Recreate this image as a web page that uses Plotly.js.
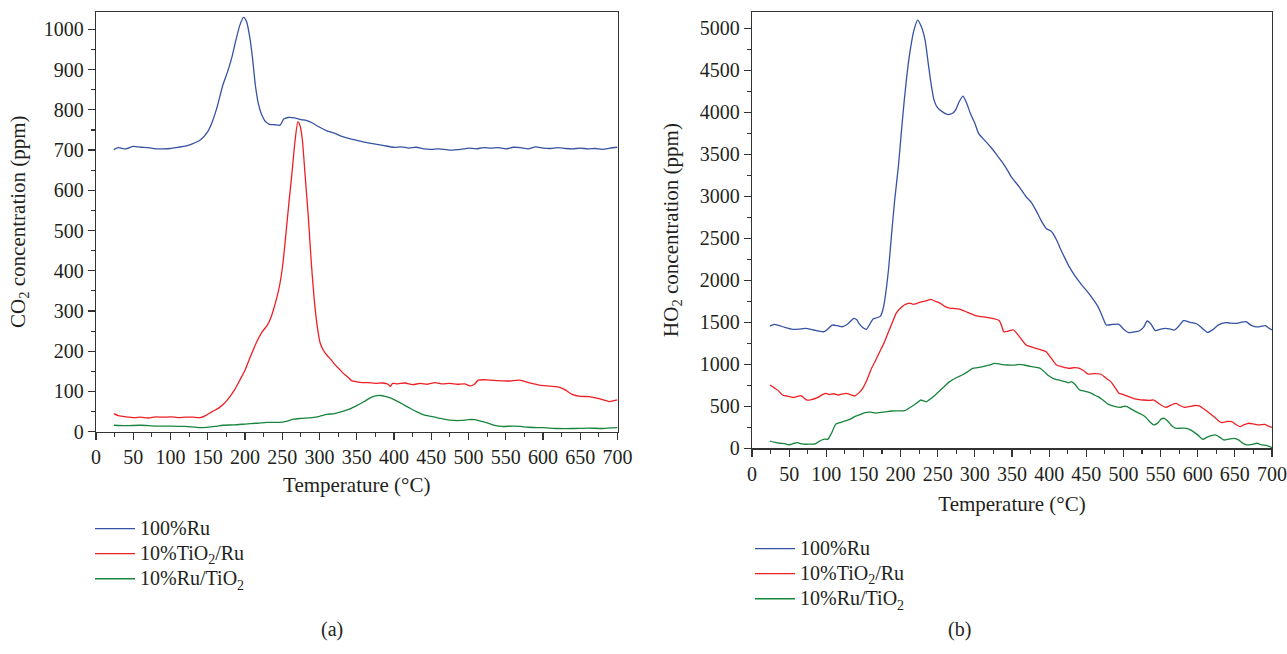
<!DOCTYPE html>
<html>
<head>
<meta charset="utf-8">
<script src="https://cdn.plot.ly/plotly-3.0.1.min.js"></script>
<style>html,body{margin:0;padding:0;background:#fff;}#chart{width:1287px;height:654px;}</style>
</head>
<body>
<div id="chart"></div>
<script>
// ---------- Data: panel (a) CO2 ----------
const seriesNames = ["100%Ru", "10%TiO<sub>2</sub>/Ru", "10%Ru/TiO<sub>2</sub>"];

const co2RuT = [24,30,40,50,60,70,80,90,100,110,120,130,140,150,156,163,170,177,183,188,193,198,202,206,210,214,218,222,228,233,240,247,252,258,266,275,282,290,299,310,320,330,343,355,365,375,387,400,410,420,430,440,450,460,475,490,500,510,520,530,540,550,560,570,580,590,600,610,620,630,640,650,660,670,680,690,700];
const co2Ru  = [701,706,703,709,707,706,703,703,704,707,710,716,725,746,770,810,860,897,935,975,1010,1030,1020,985,930,860,815,790,770,764,763,762,777,781,780,776,774,768,758,748,742,734,727,722,718,715,711,707,708,705,707,703,702,703,700,702,705,703,706,705,706,703,707,706,703,708,705,704,706,704,703,705,703,704,702,705,707];

const co2TiRuT = [24,30,40,52,60,70,80,90,100,110,120,130,140,147,156,164,172,180,186,193,200,208,216,223,230,234,238,243,247,251,255,259,263,267,271,274,277,281,285,289,293,297,301,305,310,316,321,327,332,338,343,350,358,365,375,385,392,395,398,405,415,425,435,445,455,465,475,485,495,502,508,513,525,540,555,568,577,585,595,605,618,628,640,650,662,675,689,695,700];
const co2TiRu  = [45,40,37,35,36,34,37,36,37,35,36,36,35,40,50,58,70,88,104,128,153,190,224,248,265,280,302,335,369,420,493,570,642,720,770,760,725,630,534,420,327,262,220,203,190,178,166,155,145,136,127,124,122,122,120,121,118,112,120,119,121,117,120,118,122,119,120,118,119,114,118,128,129,127,126,128,124,120,116,114,112,106,92,88,87,82,75,77,79];

const co2RuTiT = [24,40,60,80,100,120,140,160,170,185,200,215,230,250,258,265,275,290,300,310,320,330,340,350,360,368,375,382,388,395,402,410,420,430,440,450,460,470,480,490,500,508,515,525,535,545,560,570,580,600,620,640,660,680,700];
const co2RuTi  = [16,15,16,14,14,13,10,13,16,17,19,21,23,24,27,31,33,35,38,43,45,50,56,65,75,84,89,90,88,84,78,70,60,50,42,38,34,30,28,28,30,30,27,22,16,13,14,13,11,10,8,8,9,8,10];

// ---------- Data: panel (b) HO2 ----------
const ho2RuT = [24,30,37,44,55,63,72,83,90,97,102,108,115,122,130,137,141,144,149,154,158,163,168,173,177,180,184,188,192,197,201,205,209,213,218,223,228,233,237,241,245,249,256,263,270,274,279,284,289,294,300,305,313,321,330,338,344,349,360,369,376,382,390,396,402,405,410,416,422,427,435,444,452,460,465,469,473,477,485,494,500,507,514,521,527,532,537,543,550,557,563,569,575,581,590,599,606,613,620,628,638,645,652,658,665,671,677,684,691,696,700];
const ho2Ru  = [1456,1476,1460,1440,1417,1420,1429,1409,1395,1389,1420,1468,1460,1448,1490,1548,1530,1488,1440,1417,1470,1540,1555,1575,1680,1845,2150,2560,2950,3353,3760,4147,4480,4742,4980,5099,5020,4861,4600,4345,4150,4067,4010,3976,3990,4028,4130,4194,4110,3988,3870,3750,3670,3591,3490,3393,3310,3234,3110,2996,2930,2837,2700,2619,2590,2560,2480,2361,2250,2163,2050,1944,1860,1766,1700,1627,1540,1468,1475,1476,1420,1377,1385,1397,1440,1516,1480,1401,1420,1429,1420,1409,1460,1520,1500,1480,1430,1381,1410,1470,1496,1490,1488,1500,1508,1470,1448,1450,1460,1430,1409];

const ho2TiRuT = [24,30,35,41,48,55,60,66,70,74,80,88,93,99,104,110,116,121,127,132,138,144,149,155,160,166,172,178,183,189,194,200,205,212,217,222,228,234,241,247,253,260,266,272,278,283,290,299,306,316,325,333,336,339,345,352,360,369,375,382,390,396,403,410,418,427,434,441,447,452,460,469,476,483,489,494,500,507,515,527,535,541,548,557,564,571,576,582,590,596,602,608,616,624,632,640,646,652,657,662,668,675,682,690,695,700];
const ho2TiRu  = [754,720,690,635,620,607,615,627,600,575,580,603,630,655,640,650,635,645,655,640,623,660,714,820,933,1040,1151,1260,1369,1500,1607,1670,1706,1730,1715,1726,1745,1755,1774,1750,1730,1687,1670,1665,1660,1647,1620,1587,1570,1560,1545,1520,1460,1389,1395,1409,1330,1230,1210,1190,1170,1151,1070,992,970,952,960,952,920,885,890,885,840,794,720,655,640,615,590,575,570,575,530,488,515,536,510,488,500,510,504,470,417,360,306,320,317,280,258,280,298,290,278,285,265,250];

const ho2RuTiT = [24,31,38,44,49,55,61,66,72,78,85,90,94,98,102,107,113,120,127,133,138,145,152,160,166,172,180,188,196,205,210,216,222,227,231,235,242,249,257,266,275,283,290,297,304,311,319,327,335,344,352,360,366,375,382,388,395,400,405,412,418,422,426,430,435,441,448,455,460,466,473,480,488,496,500,505,512,518,524,530,536,541,546,551,555,560,565,571,578,585,592,600,607,612,618,624,630,635,642,649,655,660,666,672,680,686,692,697,700];
const ho2RuTi  = [87,70,60,55,40,55,67,55,48,50,52,80,99,110,107,180,290,310,329,350,377,400,425,430,420,425,435,444,445,448,470,504,540,575,565,556,600,655,720,794,840,873,910,952,960,972,990,1012,1000,992,990,1000,992,975,965,952,900,860,833,815,800,794,780,794,760,694,680,663,640,615,570,524,500,488,500,496,460,430,405,370,310,278,300,350,357,320,270,238,240,238,210,160,107,130,150,159,130,99,110,119,100,65,40,45,60,40,35,20,8];

// ---------- Styling ----------
const colors = ["#3652a3", "#ee1f24", "#17853c"];
const FONT = "Liberation Serif, Times New Roman, serif";
const TXT = "#231f20";
const W = 1287, H = 654;

function mk(x, y, i, xa, ya, leg) {
  return {x: x, y: y, type: "scatter", mode: "lines",
    name: '<span style="font-size:20px">' + seriesNames[i] + '</span>',
    xaxis: xa, yaxis: ya, legend: leg,
    line: {color: colors[i], width: 1.3, shape: "spline", smoothing: 0.6},
    hoverinfo: "x+y"};
}
const traces = [
  mk(co2RuT, co2Ru, 0, "x", "y", "legend"),
  mk(co2TiRuT, co2TiRu, 1, "x", "y", "legend"),
  mk(co2RuTiT, co2RuTi, 2, "x", "y", "legend"),
  mk(ho2RuT, ho2Ru, 0, "x2", "y2", "legend2"),
  mk(ho2TiRuT, ho2TiRu, 1, "x2", "y2", "legend2"),
  mk(ho2RuTiT, ho2RuTi, 2, "x2", "y2", "legend2")
];

function xax(domain, anchor, standoff) {
  return {domain: domain, anchor: anchor, range: [0, 700], dtick: 50, tick0: 0,
    ticks: "outside", ticklen: 7, tickwidth: 1.2, tickcolor: "#333",
    minor: {dtick: 25, ticks: "outside", ticklen: 4, tickwidth: 1.2, tickcolor: "#333"},
    showline: true, mirror: true, linecolor: "#333", linewidth: 1.2,
    showgrid: false, zeroline: false, ticklabeloverflow: "allow",
    tickfont: {family: FONT, size: 20, color: TXT},
    title: {text: "Temperature (°C)", font: {family: FONT, size: 21, color: TXT}, standoff: standoff}};
}
function yax(domain, anchor, range, dt, title, standoff) {
  return {domain: domain, anchor: anchor, range: range, dtick: dt, tick0: 0,
    ticks: "outside", ticklen: 7, tickwidth: 1.2, tickcolor: "#333",
    minor: {dtick: dt / 2, ticks: "outside", ticklen: 4, tickwidth: 1.2, tickcolor: "#333"},
    showline: true, mirror: true, linecolor: "#333", linewidth: 1.2,
    showgrid: false, zeroline: false, ticklabeloverflow: "allow",
    tickfont: {family: FONT, size: 20, color: TXT},
    title: {text: title, font: {family: FONT, size: 21, color: TXT}, standoff: standoff}};
}

const legFont = {family: FONT, size: 17, color: TXT};
const layout = {
  width: W, height: H,
  margin: {l: 0, r: 0, t: 0, b: 0, autoexpand: false},
  paper_bgcolor: "#fff", plot_bgcolor: "#fff",
  font: {family: FONT, color: TXT},
  xaxis: xax([96 / W, 617.5 / W], "y", 10),
  yaxis: yax([(H - 431.7) / H, (H - 11.7) / H], "x", [0, 1044], 100, "CO<sub>2</sub> concentration (ppm)", 12),
  xaxis2: xax([752 / W, 1272 / W], "y2", 12),
  yaxis2: yax([(H - 448.3) / H, (H - 11.7) / H], "x2", [0, 5200], 500, "HO<sub>2</sub> concentration (ppm)", 15),
  legend: {x: 90 / W, y: (H - 511) / H, xanchor: "left", yanchor: "top", bgcolor: "rgba(0,0,0,0)",
    font: legFont, tracegroupgap: 0, itemwidth: 40, traceorder: "normal"},
  legend2: {x: 750 / W, y: (H - 531) / H, xanchor: "left", yanchor: "top", bgcolor: "rgba(0,0,0,0)",
    font: legFont, tracegroupgap: 0, itemwidth: 40, traceorder: "normal"},
  annotations: [
    {text: "(a)", x: 319 / W, y: (H - 643) / H, xref: "paper", yref: "paper", showarrow: false,
      font: {family: FONT, size: 20, color: TXT}},
    {text: "(b)", x: 973 / W, y: (H - 643) / H, xref: "paper", yref: "paper", showarrow: false,
      font: {family: FONT, size: 20, color: TXT}}
  ],
  showlegend: true
};

Plotly.newPlot("chart", traces, layout, {displayModeBar: false, staticPlot: true});
</script>
</body>
</html>
